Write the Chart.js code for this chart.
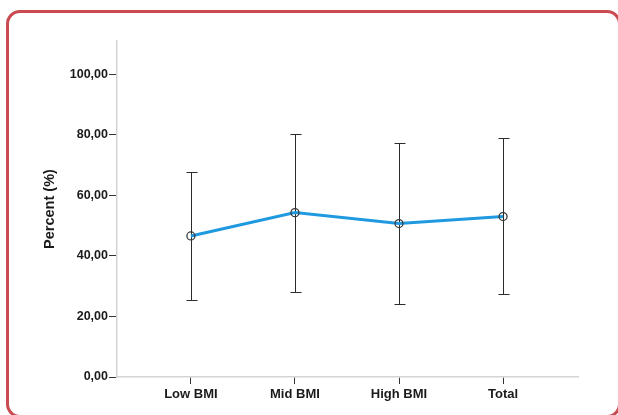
<!DOCTYPE html>
<html>
<head>
<meta charset="utf-8">
<script src="https://cdn.jsdelivr.net/npm/chart.js@4"></script>
<style>
html,body{margin:0;padding:0;background:#fff;}
#wrap{position:relative;width:618px;height:415px;overflow:hidden;}
#c{position:absolute;left:0;top:0;}
#frame{position:absolute;left:6px;top:10px;width:615px;height:408px;box-sizing:border-box;border:3px solid #c94a50;border-radius:14px;pointer-events:none;}
</style>
</head>
<body>
<div id="wrap">
<canvas id="c" width="618" height="415"></canvas>
<div id="frame"></div>
</div>
<script>
const categories = ["Low BMI", "Mid BMI", "High BMI", "Total"];
const means = [46.6, 54.3, 50.7, 53.0];
const upper = [67.7, 80.4, 77.4, 79.0];
const lower = [25.5, 28.0, 24.0, 27.4];
const yTicks = [0, 20, 40, 60, 80, 100];

const errorBars = {
  id: 'errorBars',
  beforeDatasetsDraw(chart) {
    const ctx = chart.ctx, xs = chart.scales.x, ys = chart.scales.y;
    ctx.save();
    ctx.strokeStyle = '#2b2b2b';
    ctx.lineWidth = 1;
    categories.forEach((c, i) => {
      const x = Math.round(xs.getPixelForValue(i)) + 0.5;
      const yt = Math.round(ys.getPixelForValue(upper[i])) + 0.5;
      const yb = Math.round(ys.getPixelForValue(lower[i])) + 0.5;
      ctx.beginPath();
      ctx.moveTo(x, yt); ctx.lineTo(x, yb);
      ctx.moveTo(x - 5, yt); ctx.lineTo(x + 6, yt);
      ctx.moveTo(x - 5, yb); ctx.lineTo(x + 6, yb);
      ctx.stroke();
    });
    ctx.restore();
  }
};

const font = { family: 'Liberation Sans, Arial, sans-serif', weight: 'bold', size: 12.5 };

new Chart(document.getElementById('c'), {
  type: 'line',
  data: {
    datasets: [{
      data: means.map((v, i) => ({ x: i, y: v })),
      borderColor: '#1f9ae0',
      borderWidth: 3,
      pointRadius: 4,
      pointBorderWidth: 1.3,
      pointBorderColor: '#3a3a3a',
      pointBackgroundColor: 'rgba(0,0,0,0)',
      tension: 0
    }]
  },
  options: {
    responsive: false,
    animation: false,
    layout: { padding: { top: 41, right: 40, left: 0, bottom: 0 } },
    plugins: { legend: { display: false }, tooltip: { enabled: false } },
    scales: {
      x: {
        type: 'linear',
        min: -0.71, max: 3.72,
        afterBuildTicks(s) { s.ticks = categories.map((c, i) => ({ value: i })); },
        afterFit(s) { s.height = 38; },
        ticks: { callback: (v) => categories[v], color: '#1a1a1a', font: { ...font, size: 13 }, padding: 3, maxRotation: 0 },
        grid: { drawOnChartArea: false, tickLength: 7, tickColor: '#333', tickWidth: 1 },
        border: { color: '#d4d4d4', width: 1.5 }
      },
      y: {
        min: 0, max: 111,
        afterBuildTicks(s) { s.ticks = yTicks.map(v => ({ value: v })); },
        afterFit(s) { s.width = 117; },
        ticks: { callback: (v) => v.toFixed(2).replace('.', ','), color: '#1a1a1a', font: font, padding: 1 },
        grid: { drawOnChartArea: false, tickLength: 8, tickColor: '#333', tickWidth: 1 },
        border: { color: '#d4d4d4', width: 1.5 },
        title: { display: true, text: 'Percent (%)', color: '#1a1a1a', font: { ...font, size: 14.5 }, padding: { top: 41, bottom: 0 } }
      }
    }
  },
  plugins: [errorBars]
});
</script>
</body>
</html>
